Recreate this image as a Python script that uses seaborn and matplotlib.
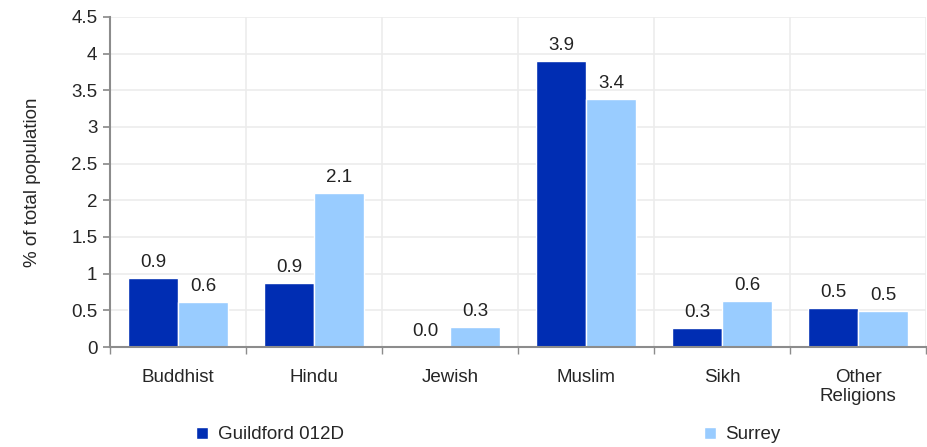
import pandas as pd
import matplotlib.pyplot as plt
import seaborn as sns

# values (% of total population)
religions = ["Buddhist", "Hindu", "Jewish", "Muslim", "Sikh", "Other\nReligions"]
guildford = [0.94, 0.87, 0.0, 3.90, 0.26, 0.53]
surrey = [0.61, 2.10, 0.27, 3.38, 0.63, 0.49]
areas = ["Guildford 012D", "Surrey"]
colors = ["#002DB3", "#99CCFF"]

df = pd.DataFrame({
    "religion": religions * 2,
    "value": guildford + surrey,
    "area": [areas[0]] * len(religions) + [areas[1]] * len(religions),
})

sns.set_theme(style="white")
plt.rcParams["font.family"] = ["Liberation Sans", "DejaVu Sans"]
fs = 13.5

fig = plt.figure(figsize=(9.28, 4.47), dpi=100)
ax = fig.add_axes([0.1185, 0.2237, 0.8795, 0.7383])

sns.barplot(data=df, x="religion", y="value", hue="area", palette=colors,
            width=0.735, saturation=1, ax=ax, legend=True)

for cont in ax.containers:
    ax.bar_label(cont, fmt="%.1f", padding=5, fontsize=fs, color="#222222")

ax.set_ylim(0, 4.5)
ax.set_yticks([i * 0.5 for i in range(10)])
ax.set_yticklabels([f"{i * 0.5:g}" for i in range(10)])
ax.set_xlim(-0.5, len(religions) - 0.5)
ax.set_xticks([i - 0.5 for i in range(len(religions) + 1)], minor=True)

ax.grid(axis="y", color="#ececec", lw=1.2)
ax.grid(axis="x", which="minor", color="#ececec", lw=1.2)
ax.set_axisbelow(True)

for s in ["top", "right"]:
    ax.spines[s].set_visible(False)
for s in ["left", "bottom"]:
    ax.spines[s].set_color("#8c8c8c")
    ax.spines[s].set_linewidth(1.5)

ax.tick_params(axis="y", left=True, length=5, color="#8c8c8c", labelsize=fs, pad=4)
ax.tick_params(axis="x", which="major", bottom=False, labelsize=fs, pad=10)
ax.tick_params(axis="x", which="minor", bottom=True, length=5, color="#8c8c8c")
for lbl in ax.get_xticklabels():
    lbl.set_linespacing(1.1)

ax.set_xlabel("")
ax.set_ylabel("% of total population", fontsize=fs, labelpad=22)

ax.legend_.remove()
handles, labels = ax.get_legend_handles_labels()
fig.legend(handles, labels, loc="center", bbox_to_anchor=(0.526, 0.027), ncol=2,
           frameon=False, fontsize=fs, handlelength=0.65, handleheight=0.65,
           handletextpad=0.5, columnspacing=19.2)

fig.savefig("out.png", dpi=100)
